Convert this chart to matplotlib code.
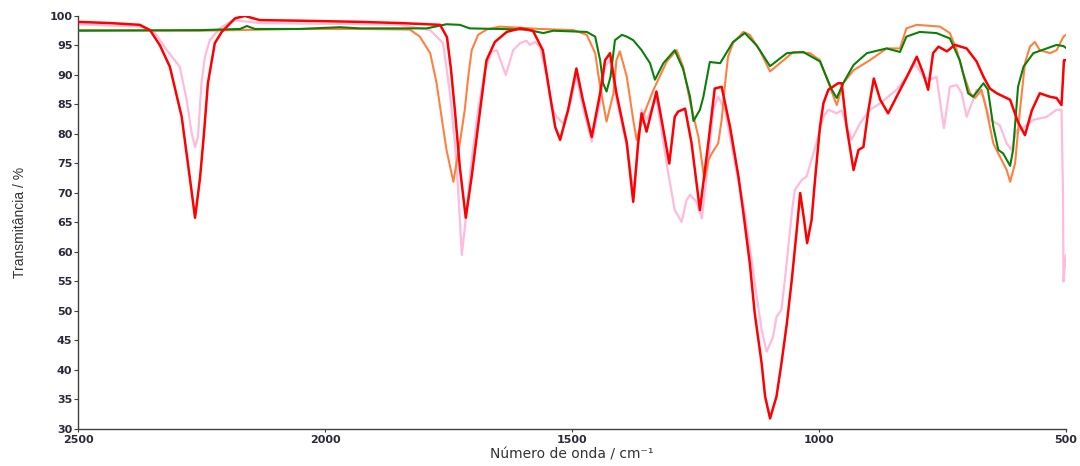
import numpy as np
import matplotlib
matplotlib.use("Agg")
import matplotlib.pyplot as plt

# FTIR spectra: wavenumber (cm-1) and transmittance (%) for each sample
red_wn = [2500, 2435, 2375, 2354, 2334, 2314, 2290, 2273, 2263, 2253, 2245, 2237,
          2223, 2209, 2182, 2162, 2132, 2051, 1929, 1848, 1767, 1753, 1745, 1737,
          1727, 1715, 1703, 1686, 1673, 1656, 1632, 1605, 1579, 1559, 1545, 1534,
          1524, 1508, 1491, 1478, 1460, 1443, 1433, 1423, 1410, 1389, 1376, 1366,
          1359, 1349, 1329, 1316, 1303, 1292, 1285, 1271, 1258, 1241, 1224, 1211,
          1197, 1180, 1163, 1153, 1140, 1130, 1116, 1109, 1099, 1086, 1076, 1065,
          1055, 1045, 1038, 1030, 1024, 1015, 1008, 998, 991, 981, 961, 954, 944,
          930, 920, 910, 900, 889, 876, 860, 843, 822, 802, 789, 779, 769, 758,
          741, 725, 701, 681, 667, 654, 640, 613, 597, 583, 569, 553, 532, 519,
          509, 504, 500]
red_t = [99.0, 98.8, 98.5, 97.6, 95.0, 91.4, 82.9, 72.2, 65.8, 72.5, 80.0, 88.6,
         95.4, 97.3, 99.6, 100.0, 99.3, 99.2, 99.0, 98.8, 98.5, 96.4, 91.0, 84.0,
         74.4, 65.8, 72.8, 84.0, 92.5, 95.6, 97.3, 97.9, 97.5, 94.2, 86.9, 81.2,
         79.0, 84.0, 91.1, 85.8, 79.5, 86.9, 92.5, 93.7, 86.9, 78.5, 68.5, 78.5,
         83.5, 80.4, 87.2, 81.2, 75.0, 82.9, 83.8, 84.3, 78.5, 67.1, 78.5, 87.7,
         88.0, 81.2, 72.8, 66.6, 58.1, 49.6, 41.1, 35.5, 31.8, 35.5, 41.1, 47.9,
         55.3, 63.7, 70.0, 65.4, 61.5, 65.4, 72.2, 81.2, 85.2, 87.5, 88.6, 88.6, 81.2,
         73.9, 77.3, 77.8, 84.0, 89.4, 85.8, 83.5, 86.3, 89.7, 93.1, 90.3, 87.5, 93.7, 94.8,
         94.0, 95.1, 94.5, 92.3, 89.7, 87.7, 86.9, 85.8, 82.0, 79.8, 84.0, 86.9, 86.3, 86.1,
         84.9, 92.5, 92.5]

pink_wn = [2500, 2375, 2354, 2344, 2320, 2294, 2280, 2270, 2263, 2257, 2250, 2243,
           2233, 2213, 2186, 2132, 1929, 1848, 1787, 1761, 1747, 1737, 1730, 1723,
           1713, 1703, 1690, 1676, 1663, 1652, 1634, 1619, 1605, 1592, 1585, 1575,
           1565, 1551, 1541, 1531, 1518, 1504, 1491, 1478, 1460, 1443, 1433, 1423,
           1410, 1389, 1375, 1359, 1349, 1329, 1305, 1292, 1278, 1268, 1261, 1248,
           1237, 1224, 1214, 1204, 1190, 1170, 1150, 1126, 1116, 1106, 1093, 1086,
           1076, 1069, 1062, 1055, 1049, 1035, 1025, 1005, 991, 981, 964, 954, 934,
           917, 897, 876, 863, 843, 822, 806, 789, 775, 762, 747, 735, 721, 711,
           701, 688, 681, 667, 654, 634, 620, 610, 600, 593, 566, 539, 519, 509,
           506, 505, 502, 500]
pink_t = [98.6, 98.2, 97.6, 97.1, 94.2, 91.4, 85.8, 80.2, 77.8, 79.5, 88.6, 93.1,
          95.9, 97.9, 99.3, 98.8, 98.6, 98.5, 97.6, 95.4, 86.9, 78.4, 70.0, 59.5,
          67.1, 75.6, 84.1, 90.8, 93.9, 94.2, 90.0, 94.2, 95.4, 95.8, 95.1, 95.6,
          94.8, 89.7, 84.5, 82.9, 81.8, 85.0, 90.0, 84.5, 78.7, 85.5, 91.5, 92.5,
          86.0, 78.0, 70.0, 84.1, 82.4, 86.0, 73.3, 67.1, 65.1, 68.8, 69.7, 68.5,
          65.7, 75.6, 84.1, 86.3, 84.0, 75.0, 66.6, 52.4, 46.8, 43.1, 45.6, 49.0,
          50.2, 55.3, 60.9, 66.6, 70.5, 72.2, 72.8, 78.5, 82.9, 84.1, 83.5, 84.0, 79.0,
          81.8, 84.1, 85.2, 86.1, 87.5, 89.7, 92.0, 89.7, 89.2, 89.7, 81.0, 88.0, 88.3, 86.9,
          82.9, 85.8, 87.5, 86.3, 82.4, 81.5, 78.4, 77.3, 80.7, 80.7, 82.4, 82.9, 84.1, 84.1,
          70.0, 55.0, 58.0, 59.5]

orange_wn = [2500, 2253, 2051, 1929, 1828, 1808, 1787, 1774, 1764, 1754, 1740, 1727,
             1717, 1710, 1703, 1690, 1673, 1646, 1565, 1497, 1470, 1453, 1443, 1430,
             1416, 1410, 1403, 1389, 1376, 1369, 1356, 1335, 1308, 1288, 1275, 1261,
             1254, 1244, 1234, 1231, 1224, 1217, 1204, 1197, 1190, 1184, 1174, 1153,
             1140, 1120, 1099, 1079, 1052, 1018, 998, 978, 964, 951, 930, 897, 863,
             836, 823, 802, 755, 735, 721, 708, 694, 684, 671, 661, 647, 634, 620,
             613, 603, 593, 583, 573, 563, 553, 532, 519, 505, 500]
orange_t = [97.6, 97.5, 97.8, 97.8, 97.7, 96.5, 93.7, 88.6, 82.9, 77.3, 71.9, 78.5,
            84.1, 89.7, 94.2, 96.8, 97.7, 98.2, 97.8, 97.6, 96.8, 93.7, 88.0, 82.1,
            86.9, 92.5, 94.0, 89.7, 82.4, 79.0, 83.0, 87.5, 92.3, 94.2, 91.4, 85.5,
            83.0, 79.5, 73.5, 72.5, 75.5, 76.7, 78.4, 82.4, 88.6, 93.1, 95.4, 97.3,
            96.8, 94.2, 90.6, 92.0, 93.9, 93.7, 92.5, 88.0, 84.9, 88.6, 90.8, 92.5, 94.5,
            94.5, 97.9, 98.5, 98.2, 97.1, 94.2, 90.3, 86.9, 86.1, 87.5, 84.1, 78.4, 76.2, 73.9,
            71.9, 75.0, 84.1, 92.0, 94.8, 95.6, 94.2, 93.7, 94.2, 96.5, 96.8]

green_wn = [2500, 2253, 2172, 2158, 2142, 2051, 1970, 1929, 1794, 1754, 1727, 1707,
            1592, 1558, 1538, 1470, 1453, 1443, 1437, 1430, 1422, 1413, 1399, 1389,
            1376, 1359, 1342, 1332, 1315, 1292, 1275, 1261, 1254, 1241, 1234, 1221,
            1200, 1174, 1150, 1126, 1099, 1065, 1032, 998, 974, 964, 951, 930, 903,
            863, 836, 823, 796, 762, 735, 715, 698, 688, 667, 658, 647, 637, 627,
            613, 607, 597, 586, 566, 539, 519, 505, 500]
green_t = [97.5, 97.6, 97.8, 98.3, 97.8, 97.8, 98.1, 97.9, 97.9, 98.6, 98.5, 97.9,
           97.7, 97.1, 97.5, 97.3, 96.5, 92.5, 88.6, 87.2, 89.7, 95.9, 96.8, 96.5,
           95.9, 94.2, 92.0, 89.2, 92.0, 94.2, 91.0, 86.3, 82.2, 84.1, 86.3, 92.2,
           92.0, 95.6, 97.1, 95.0, 91.5, 93.7, 93.9, 92.3, 87.5, 86.1, 88.6, 91.7, 93.7,
           94.5, 93.9, 96.5, 97.3, 97.1, 96.2, 92.5, 86.9, 86.3, 88.6, 87.5, 81.2, 77.3,
           76.7, 74.6, 77.3, 88.0, 91.4, 93.7, 94.5, 95.1, 94.9, 94.6]

yticks = np.arange(30, 101, 5)
xticks = [2500, 2000, 1500, 1000, 500]

fig = plt.figure(figsize=(10.8, 4.66), dpi=100)
ax = fig.add_axes([0.0722, 0.0794, 0.9148, 0.8863])

ax.plot(pink_wn, pink_t, color="#ffbadc", lw=1.6, zorder=1)
ax.plot(orange_wn, orange_t, color="#ff8040", lw=1.5, zorder=2)
ax.plot(green_wn, green_t, color="#0a800a", lw=1.5, zorder=3)
ax.plot(red_wn, red_t, color="#ff0000", lw=1.8, zorder=4)

ax.set_xlim(2500, 500)
ax.set_ylim(30, 100)
ax.set_xticks(xticks)
ax.set_yticks(yticks)

for side in ("top", "right"):
    ax.spines[side].set_visible(False)
for side in ("left", "bottom"):
    ax.spines[side].set_color("#404040")
    ax.spines[side].set_linewidth(1.0)

ax.tick_params(axis="y", direction="out", length=3, width=0.8, color="#404040",
               labelsize=8, labelcolor="#2a2a3a", pad=1)
ax.tick_params(axis="x", direction="out", length=2, width=0.8, color="#404040",
               labelsize=8, labelcolor="#2a2a3a", pad=2)
for lab in ax.get_xticklabels() + ax.get_yticklabels():
    lab.set_family("DejaVu Sans")
    lab.set_fontweight("bold")

ax.set_ylabel("Transmitância / %", family=["Liberation Sans Narrow", "Liberation Sans"],
              fontsize=10, color="#333333")
ax.yaxis.set_label_coords(-0.052, 0.5)
ax.set_xlabel("Número de onda / cm⁻¹", family=["DejaVu Sans"], fontsize=10,
              color="#333333", labelpad=2)

fig.savefig("out.png", dpi=100)
